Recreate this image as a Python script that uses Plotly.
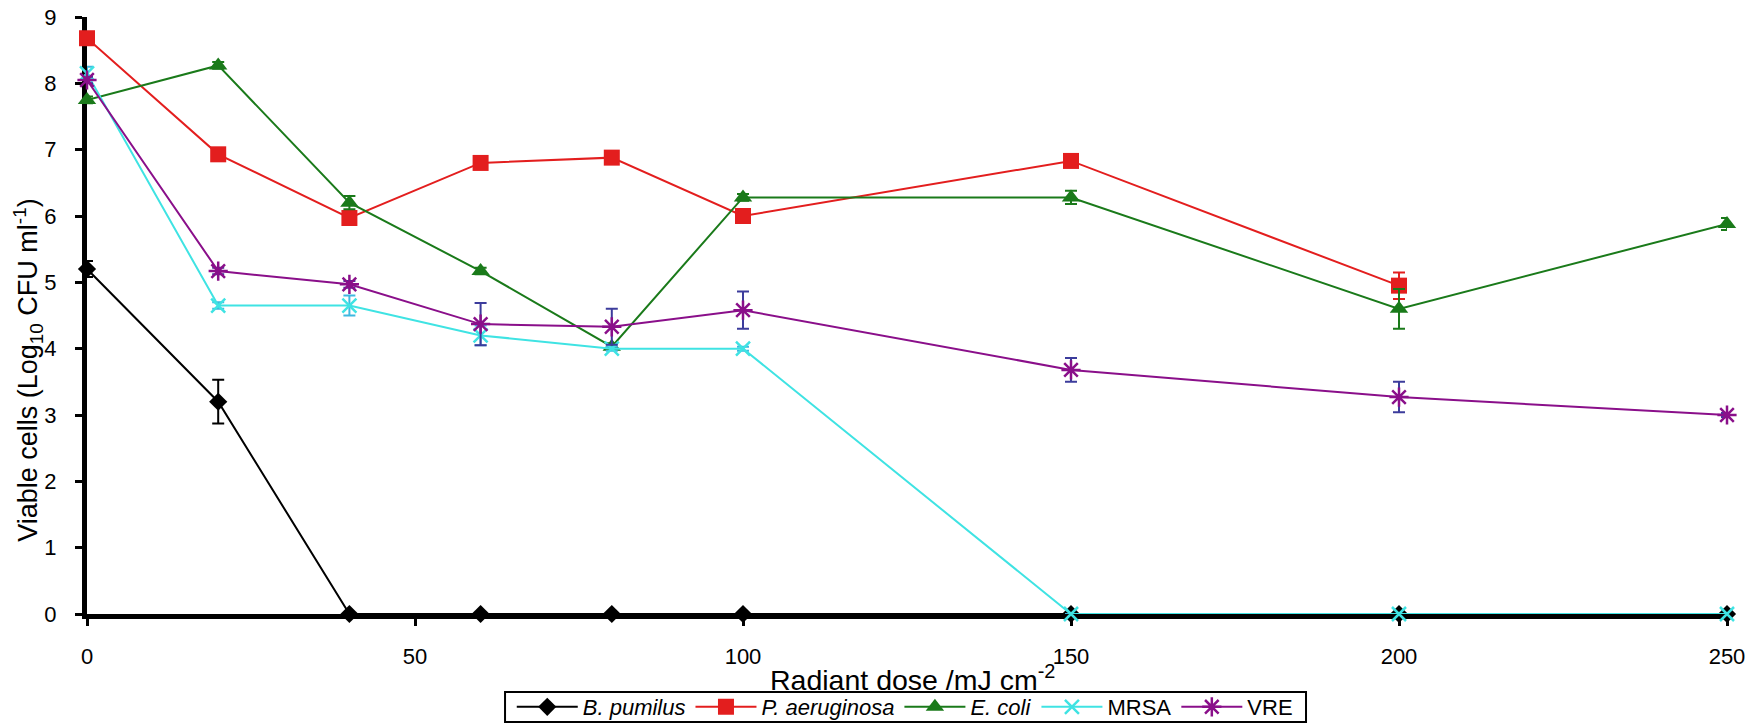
import plotly.graph_objects as go

dose = [0, 20, 40, 60, 80, 100, 150, 200, 250]

b_pumilus = [5.2, 3.2, 0, 0, 0, 0, 0, 0, 0]
b_pumilus_err = [0.12, 0.33, 0, 0, 0, 0, 0, 0, 0]

p_aeruginosa = [8.68, 6.93, 5.97, 6.8, 6.88, 6.0, 6.83, 4.95, None]
p_aeruginosa_err = [0.05, 0.05, 0.1, 0.05, 0.06, 0.05, 0.05, 0.2, None]

e_coli = [7.75, 8.27, 6.2, 5.17, 4.03, 6.28, 6.28, 4.6, 5.88]
e_coli_err = [0.05, 0.05, 0.1, 0.05, 0.05, 0.05, 0.1, 0.3, 0.09]

mrsa = [8.15, 4.65, 4.65, 4.2, 4.0, 4.0, 0, 0, 0]
mrsa_err = [0.1, 0.05, 0.15, 0.15, 0.03, 0.03, 0, 0, 0]

vre = [8.05, 5.17, 4.97, 4.37, 4.33, 4.58, 3.68, 3.27, 3.0]
vre_err = [0.05, 0.05, 0.05, 0.32, 0.27, 0.28, 0.18, 0.23, 0.03]

x_ticks = [0, 50, 100, 150, 200, 250]
y_ticks = [0, 1, 2, 3, 4, 5, 6, 7, 8, 9]

x_title = "Radiant dose /mJ cm<sup>-2</sup>"
y_title = "Viable cells (Log<sub>10</sub> CFU ml<sup>-1</sup>)"

FONT = "Liberation Sans, Arial, sans-serif"

series = [
    ("<i>B. pumilus</i>", b_pumilus, b_pumilus_err, "#000000", "#000000", "diamond", 14),
    ("<i>P. aeruginosa</i>", p_aeruginosa, p_aeruginosa_err, "#e31e1e", "#e31e1e", "square", 16),
    ("<i>E. coli</i>", e_coli, e_coli_err, "#1a7a1a", "#1a7a1a", "triangle-up", 16),
    ("MRSA", mrsa, mrsa_err, "#3fe3e3", "#3fb8e0", "x-thin", 14),
    ("VRE", vre, vre_err, "#8a0f8a", "#3c3c9c", "asterisk", 16),
]

fig = go.Figure()
for name, ys, errs, col, ecol, sym, size in series:
    thin = sym in ("x-thin", "asterisk")
    fig.add_trace(go.Scatter(
        x=dose, y=ys, name=name, mode="lines+markers",
        line=dict(color=col, width=2),
        marker=dict(symbol=sym, size=size, color=col,
                    line=dict(color=col, width=2.5 if thin else 0)),
        error_y=dict(type="data", array=errs, visible=True,
                     color=ecol, thickness=2, width=6),
        cliponaxis=False,
    ))

fig.update_layout(
    width=1758, height=726,
    margin=dict(l=87, r=31, t=17, b=112, autoexpand=False),
    paper_bgcolor="white", plot_bgcolor="white",
    font=dict(family=FONT, color="#000000", size=22),
    showlegend=True,
    legend=dict(orientation="h", x=0.259, xanchor="left", y=-0.1206, yanchor="top",
                bgcolor="rgba(0,0,0,0)", borderwidth=0,
                font=dict(size=22, family=FONT),
                itemwidth=61, tracegroupgap=0),
    shapes=[
        dict(type="rect", xref="paper", yref="paper",
             x0=0.2549, x1=0.7433, y0=-0.1809, y1=-0.1307,
             line=dict(color="#000000", width=2), fillcolor="rgba(0,0,0,0)",
             layer="above"),
    ],
    annotations=[
        dict(text=x_title, xref="paper", yref="paper", x=0.5035, y=-0.108,
             xanchor="center", yanchor="middle", showarrow=False,
             font=dict(size=28.5, family=FONT, color="#000000")),
        dict(text=y_title, xref="paper", yref="paper", x=-0.036, y=0.409,
             xanchor="center", yanchor="middle", showarrow=False, textangle=-90,
             font=dict(size=27, family=FONT, color="#000000")),
    ],
)

fig.update_xaxes(
    range=[0, 250], tickvals=x_ticks,
    showgrid=False, zeroline=False, automargin=False,
    showline=True, linecolor="#000000", linewidth=5,
    ticks="outside", ticklen=7, tickwidth=3, tickcolor="#000000",
    ticklabelstandoff=12,
    tickfont=dict(size=22, family=FONT),
    layer="below traces",
)
fig.update_yaxes(
    range=[0, 9], tickvals=y_ticks,
    showgrid=False, zeroline=False, automargin=False,
    showline=True, linecolor="#000000", linewidth=5,
    ticks="outside", ticklen=7, tickwidth=3, tickcolor="#000000",
    ticklabelstandoff=14,
    tickfont=dict(size=22, family=FONT),
    layer="below traces",
)

fig.write_html("out.html")
